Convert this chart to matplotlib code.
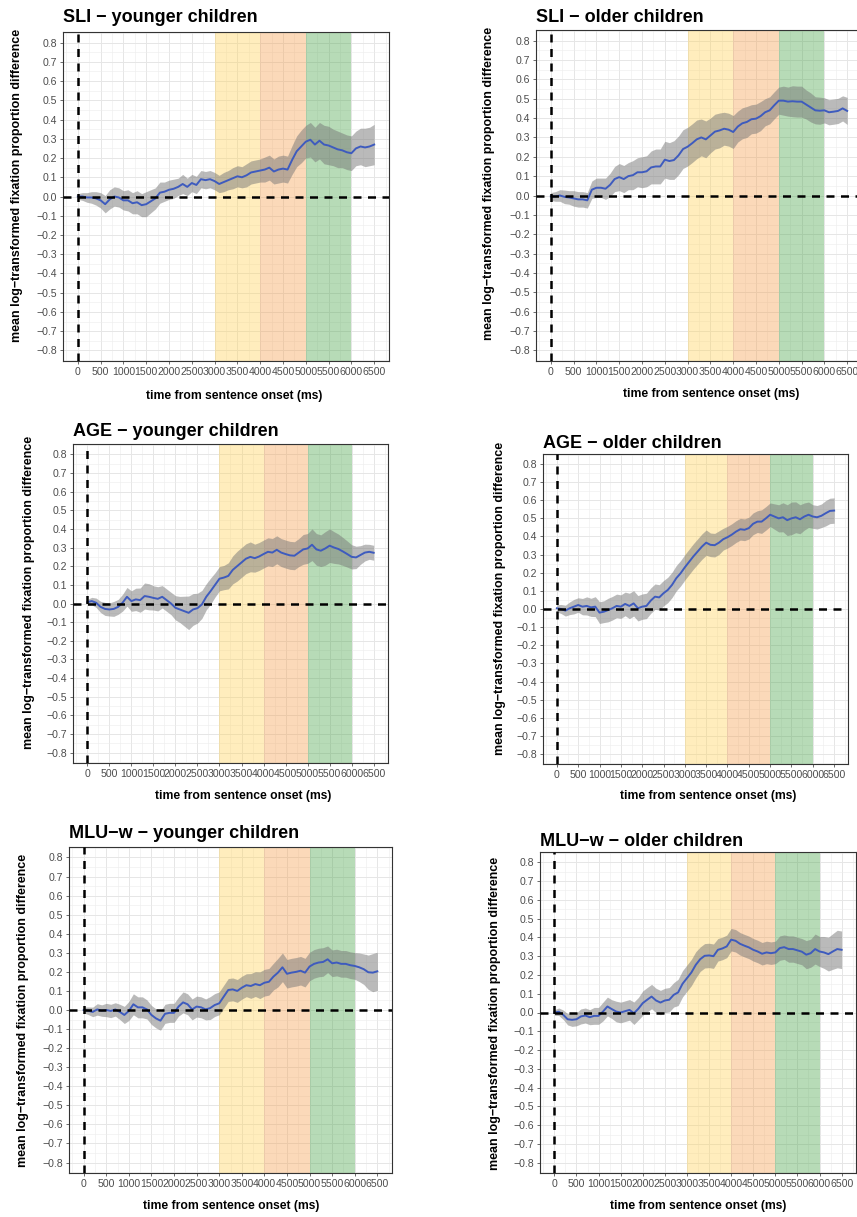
import numpy as np
import matplotlib
matplotlib.use('Agg')
import matplotlib.pyplot as plt
from matplotlib.ticker import MultipleLocator

plt.rcParams['font.family'] = ['Liberation Sans', 'DejaVu Sans']

# time axis (ms), one value every 100 ms
time_ms = np.arange(0, 6501, 100)

# SLI - younger children
sli_young_mean = [0.0, 0.0, -0.005, -0.005, -0.01, -0.02, -0.04, -0.015, 0.0, -0.005,
                  -0.02, -0.02, -0.035, -0.03, -0.045, -0.04, -0.025, -0.01, 0.02, 0.025,
                  0.035, 0.04, 0.05, 0.065, 0.05, 0.07, 0.06, 0.09, 0.085, 0.09,
                  0.08, 0.065, 0.075, 0.085, 0.095, 0.105, 0.1, 0.11, 0.125, 0.13,
                  0.135, 0.14, 0.15, 0.13, 0.14, 0.145, 0.14, 0.19, 0.235, 0.26,
                  0.285, 0.295, 0.27, 0.29, 0.27, 0.265, 0.255, 0.245, 0.24, 0.23,
                  0.225, 0.25, 0.26, 0.255, 0.26, 0.27]
sli_young_ci = [0.015, 0.02, 0.025, 0.03, 0.035, 0.04, 0.045, 0.05, 0.05, 0.05,
                0.05, 0.055, 0.055, 0.06, 0.06, 0.065, 0.06, 0.055, 0.055, 0.05,
                0.05, 0.05, 0.045, 0.05, 0.045, 0.045, 0.045, 0.045, 0.045, 0.045,
                0.045, 0.045, 0.05, 0.05, 0.055, 0.055, 0.055, 0.06, 0.06, 0.06,
                0.06, 0.065, 0.065, 0.065, 0.07, 0.07, 0.07, 0.075, 0.08, 0.085,
                0.085, 0.09, 0.09, 0.095, 0.1, 0.1, 0.095, 0.095, 0.09, 0.09,
                0.09, 0.09, 0.095, 0.1, 0.1, 0.105]

# SLI - older children
sli_old_mean = [-0.005, -0.005, 0.0, -0.007, -0.01, -0.015, -0.02, -0.02, -0.025, 0.03,
                0.04, 0.04, 0.035, 0.055, 0.085, 0.095, 0.085, 0.1, 0.105, 0.12,
                0.12, 0.125, 0.145, 0.15, 0.15, 0.185, 0.178, 0.183, 0.207, 0.24,
                0.252, 0.27, 0.29, 0.3, 0.29, 0.31, 0.33, 0.336, 0.345, 0.34,
                0.328, 0.356, 0.373, 0.38, 0.394, 0.397, 0.41, 0.43, 0.44, 0.466,
                0.49, 0.49, 0.485, 0.487, 0.485, 0.485, 0.47, 0.455, 0.44, 0.438,
                0.44, 0.43, 0.433, 0.437, 0.45, 0.437]
sli_old_ci = [0.02, 0.025, 0.03, 0.035, 0.035, 0.04, 0.04, 0.04, 0.04, 0.045,
              0.05, 0.05, 0.055, 0.06, 0.065, 0.07, 0.07, 0.07, 0.075, 0.075,
              0.08, 0.08, 0.085, 0.09, 0.09, 0.095, 0.095, 0.1, 0.1, 0.1,
              0.1, 0.1, 0.1, 0.095, 0.095, 0.09, 0.09, 0.09, 0.085, 0.085,
              0.085, 0.08, 0.08, 0.08, 0.075, 0.075, 0.075, 0.07, 0.07, 0.07,
              0.07, 0.075, 0.075, 0.08, 0.08, 0.08, 0.075, 0.075, 0.07, 0.07,
              0.065, 0.065, 0.065, 0.065, 0.065, 0.07]

# AGE - younger children
age_young_mean = [0.007, 0.013, 0.004, -0.018, -0.029, -0.032, -0.029, -0.018, 0.004, 0.036,
                  0.013, 0.022, 0.018, 0.04, 0.036, 0.03, 0.025, 0.036, 0.018, 0.0,
                  -0.023, -0.032, -0.041, -0.05, -0.032, -0.025, -0.005, 0.036, 0.067, 0.1,
                  0.133, 0.139, 0.148, 0.18, 0.2, 0.22, 0.24, 0.25, 0.243, 0.252,
                  0.265, 0.277, 0.273, 0.288, 0.273, 0.265, 0.258, 0.256, 0.273, 0.29,
                  0.295, 0.315, 0.29, 0.283, 0.295, 0.31, 0.3, 0.292, 0.279, 0.265,
                  0.25, 0.247, 0.26, 0.273, 0.277, 0.272]
age_young_ci = [0.015, 0.02, 0.025, 0.03, 0.035, 0.035, 0.04, 0.04, 0.045, 0.05,
                0.055, 0.06, 0.065, 0.07, 0.07, 0.065, 0.065, 0.06, 0.06, 0.06,
                0.065, 0.07, 0.08, 0.09, 0.085, 0.08, 0.075, 0.07, 0.07, 0.065,
                0.065, 0.065, 0.07, 0.075, 0.08, 0.08, 0.08, 0.08, 0.075, 0.075,
                0.075, 0.075, 0.075, 0.075, 0.075, 0.075, 0.075, 0.075, 0.075, 0.08,
                0.08, 0.085, 0.085, 0.085, 0.09, 0.09, 0.085, 0.08, 0.075, 0.07,
                0.065, 0.06, 0.05, 0.045, 0.04, 0.04]

# AGE - older children
age_old_mean = [0.004, 0.0, -0.009, 0.004, 0.013, 0.022, 0.013, 0.017, 0.009, 0.013,
                -0.02, -0.015, -0.006, 0.004, 0.017, 0.013, 0.028, 0.017, 0.031, 0.004,
                0.013, 0.017, 0.046, 0.068, 0.064, 0.087, 0.105, 0.133, 0.17, 0.197,
                0.23, 0.26, 0.29, 0.317, 0.344, 0.366, 0.354, 0.352, 0.366, 0.385,
                0.396, 0.41, 0.427, 0.44, 0.437, 0.446, 0.47, 0.482, 0.482, 0.5,
                0.52, 0.51, 0.5, 0.506, 0.49, 0.5, 0.506, 0.495, 0.51, 0.52,
                0.51, 0.506, 0.514, 0.528, 0.541, 0.543]
age_old_ci = [0.02, 0.025, 0.03, 0.035, 0.04, 0.04, 0.045, 0.05, 0.05, 0.055,
              0.06, 0.06, 0.065, 0.065, 0.065, 0.065, 0.065, 0.07, 0.07, 0.07,
              0.07, 0.07, 0.07, 0.07, 0.07, 0.07, 0.07, 0.07, 0.07, 0.07,
              0.07, 0.07, 0.07, 0.07, 0.07, 0.07, 0.065, 0.065, 0.065, 0.06,
              0.06, 0.06, 0.06, 0.06, 0.06, 0.06, 0.06, 0.06, 0.065, 0.065,
              0.065, 0.07, 0.075, 0.08, 0.085, 0.09, 0.085, 0.08, 0.075, 0.07,
              0.065, 0.065, 0.065, 0.07, 0.07, 0.07]

# MLU-w - younger children
mlu_young_mean = [0.0, -0.004, -0.01, 0.003, -0.003, 0.0, -0.005, 0.003, -0.01, -0.026,
                  -0.005, 0.03, 0.014, 0.014, 0.003, -0.026, -0.044, -0.056, -0.02, -0.015,
                  -0.015, 0.018, 0.04, 0.03, 0.003, 0.018, 0.014, 0.003, 0.01, 0.026,
                  0.035, 0.07, 0.105, 0.108, 0.1, 0.117, 0.13, 0.126, 0.136, 0.13,
                  0.143, 0.148, 0.175, 0.196, 0.224, 0.19, 0.196, 0.2, 0.206, 0.196,
                  0.228, 0.242, 0.249, 0.252, 0.266, 0.245, 0.249, 0.242, 0.242, 0.235,
                  0.231, 0.224, 0.214, 0.198, 0.196, 0.203]
mlu_young_ci = [0.015, 0.02, 0.025, 0.03, 0.03, 0.035, 0.035, 0.035, 0.04, 0.045,
                0.05, 0.055, 0.055, 0.055, 0.05, 0.05, 0.05, 0.05, 0.05, 0.05,
                0.05, 0.05, 0.055, 0.055, 0.055, 0.055, 0.055, 0.055, 0.06, 0.06,
                0.06, 0.06, 0.06, 0.06, 0.06, 0.06, 0.06, 0.065, 0.065, 0.07,
                0.07, 0.07, 0.07, 0.075, 0.075, 0.075, 0.075, 0.075, 0.075, 0.075,
                0.075, 0.075, 0.075, 0.075, 0.07, 0.07, 0.07, 0.07, 0.07, 0.07,
                0.07, 0.075, 0.08, 0.09, 0.1, 0.1]

# MLU-w - older children
mlu_old_mean = [0.0, 0.004, -0.012, -0.036, -0.039, -0.036, -0.021, -0.016, -0.025, -0.018,
                -0.018, 0.005, 0.032, 0.018, 0.005, 0.0, 0.007, 0.014, -0.004, 0.02,
                0.05, 0.068, 0.085, 0.064, 0.053, 0.064, 0.068, 0.094, 0.107, 0.153,
                0.183, 0.213, 0.254, 0.284, 0.302, 0.304, 0.3, 0.334, 0.341, 0.352,
                0.388, 0.382, 0.366, 0.356, 0.347, 0.334, 0.325, 0.313, 0.32, 0.316,
                0.32, 0.343, 0.348, 0.338, 0.338, 0.331, 0.324, 0.308, 0.316, 0.338,
                0.325, 0.32, 0.311, 0.325, 0.338, 0.334]
mlu_old_ci = [0.015, 0.02, 0.025, 0.03, 0.035, 0.035, 0.04, 0.04, 0.04, 0.045,
              0.045, 0.05, 0.05, 0.05, 0.055, 0.055, 0.055, 0.055, 0.06, 0.06,
              0.065, 0.065, 0.065, 0.065, 0.065, 0.065, 0.065, 0.065, 0.07, 0.07,
              0.07, 0.07, 0.07, 0.065, 0.065, 0.065, 0.065, 0.06, 0.06, 0.06,
              0.06, 0.06, 0.06, 0.06, 0.06, 0.06, 0.06, 0.06, 0.06, 0.06,
              0.06, 0.065, 0.065, 0.07, 0.07, 0.07, 0.07, 0.075, 0.075, 0.08,
              0.08, 0.085, 0.09, 0.095, 0.1, 0.1]

titles = ['SLI \u2212 younger children', 'SLI \u2212 older children',
          'AGE \u2212 younger children', 'AGE \u2212 older children',
          'MLU\u2212w \u2212 younger children', 'MLU\u2212w \u2212 older children']
means = [sli_young_mean, sli_old_mean, age_young_mean, age_old_mean, mlu_young_mean, mlu_old_mean]
cis = [sli_young_ci, sli_old_ci, age_young_ci, age_old_ci, mlu_young_ci, mlu_old_ci]

# time windows (ms) shaded behind the curves
windows = [(3000, 4000), (4000, 5000), (5000, 6000)]
window_colors = ['#FFD25A', '#F5A050', '#4CA64C']

W, H = 857, 1217

# panel frames in pixels: left, top, right, bottom
frames = [(63, 32, 389, 361), (536, 30, 862, 361),
          (73, 444, 388, 763), (543, 454, 848, 764),
          (69, 847, 392, 1173), (540, 852, 856, 1173)]
# text anchors in pixels: title (x, y), ylabel (x, y), xlabel (x, y)
title_pos = [(63, 18), (536, 17), (73, 432), (543, 443), (69, 833), (540, 841)]
ylab_pos = [(17, 185), (489, 183), (29, 592), (500, 598), (23, 1010), (495, 1013)]
xlab_pos = [(234, 396), (711, 394), (243, 796), (708, 796), (231, 1206), (698, 1206)]

fig = plt.figure(figsize=(W / 100, H / 100), dpi=100)

for i in range(6):
    l, t, r, b = frames[i]
    ax = fig.add_axes([l / W, 1 - b / H, (r - l) / W, (b - t) / H])

    mean = np.array(means[i])
    ci = np.array(cis[i])

    # coloured time windows
    for (x0, x1), c in zip(windows, window_colors):
        ax.axvspan(x0, x1, color=c, alpha=0.4, lw=0, zorder=1)

    # confidence band + mean
    ax.fill_between(time_ms, mean - ci, mean + ci, color='#777777', alpha=0.5, lw=0, zorder=2)
    ax.plot(time_ms, mean, color='#3E5BBE', lw=1.4, zorder=3)

    # reference lines
    ax.axhline(0, color='black', lw=1.8, ls=(0, (3.2, 2.6)), zorder=4)
    ax.axvline(0, color='black', lw=1.8, ls=(0, (3.2, 2.6)), zorder=4)

    ax.set_xlim(-325, 6825)
    ax.set_ylim(-0.855, 0.855)

    ax.xaxis.set_minor_locator(MultipleLocator(250))
    ax.yaxis.set_minor_locator(MultipleLocator(0.05))
    ax.set_xticks(np.arange(0, 6501, 500))
    ax.set_xticklabels([str(v) for v in range(0, 6501, 500)])
    yt = np.round(np.arange(-0.8, 0.81, 0.1), 1)
    ax.set_yticks(yt)
    ax.set_yticklabels([('%.1f' % v).replace('-', '\u2212') if abs(v) > 1e-9 else '0.0' for v in yt])

    ax.grid(which='major', color='#E6E6E6', lw=0.7, zorder=0)
    ax.grid(which='minor', color='#EDEDED', lw=0.4, zorder=0)
    ax.set_axisbelow(True)

    ax.tick_params(which='major', length=2.5, width=0.5, color='#333333',
                   labelsize=7.6, labelcolor='#4D4D4D', pad=1.5)
    ax.tick_params(which='minor', length=0)
    for s in ax.spines.values():
        s.set_color('#333333')
        s.set_linewidth(0.8)

    tx, ty = title_pos[i]
    fig.text(tx / W, 1 - ty / H, titles[i], fontsize=13, fontweight='bold',
             ha='left', va='center')
    yx, yy = ylab_pos[i]
    fig.text(yx / W, 1 - yy / H, 'mean log\u2212transformed fixation proportion difference',
             fontsize=9.0, fontweight='bold', rotation=90, ha='center', va='center')
    xx, xy = xlab_pos[i]
    fig.text(xx / W, 1 - xy / H, 'time from sentence onset (ms)',
             fontsize=8.7, fontweight='bold', ha='center', va='center')

fig.savefig('out.png', dpi=100)
